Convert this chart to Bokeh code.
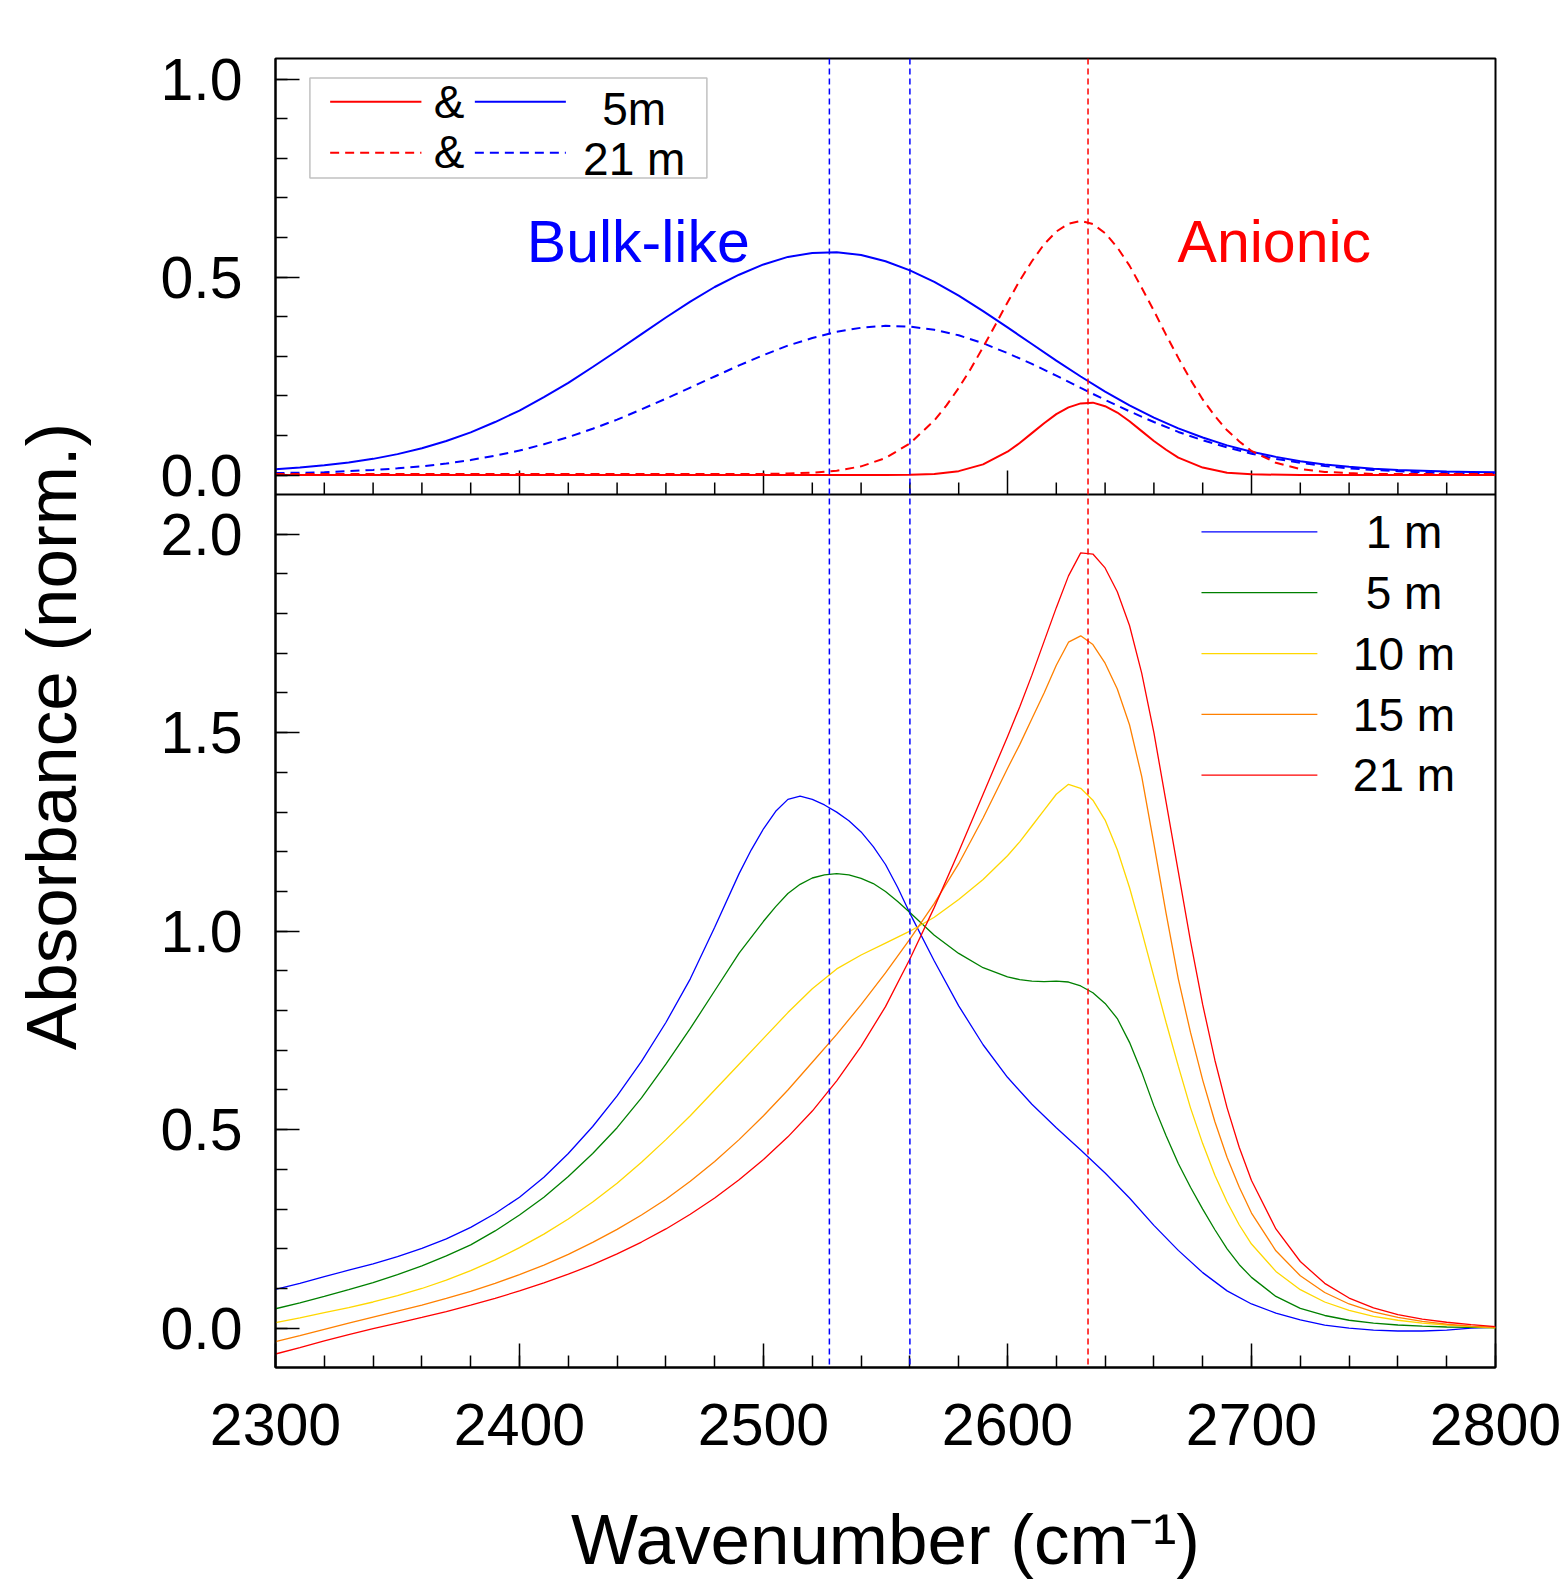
import math
from bokeh.plotting import figure
from bokeh.layouts import row
from bokeh.models import (Span, Label, SingleIntervalTicker, FixedTicker, Range1d,
                          BoxAnnotation, PrintfTickFormatter)
from bokeh.embed import file_html
from bokeh.resources import INLINE

FONT = "Liberation Sans"

# ======================= data =======================
# ---- top panel: fitted components (solid = 5 m, dashed = 21 m) ----
top_x = list(range(2300, 2801, 10))
bulk_5m = [0.015, 0.019, 0.025, 0.032, 0.041, 0.053, 0.068, 0.086, 0.108, 0.134,
           0.163, 0.197, 0.233, 0.273, 0.314, 0.356, 0.398, 0.438, 0.475, 0.506,
           0.532, 0.551, 0.561, 0.563, 0.556, 0.540, 0.517, 0.488, 0.453, 0.414,
           0.373, 0.331, 0.289, 0.249, 0.211, 0.176, 0.145, 0.118, 0.095, 0.075,
           0.059, 0.046, 0.035, 0.027, 0.021, 0.016, 0.013, 0.011, 0.009, 0.008, 0.007]
bulk_21m = [0.005, 0.006, 0.007, 0.010, 0.013, 0.017, 0.022, 0.029, 0.038, 0.049,
            0.062, 0.078, 0.096, 0.117, 0.140, 0.166, 0.193, 0.221, 0.249, 0.277,
            0.303, 0.327, 0.346, 0.362, 0.372, 0.377, 0.375, 0.367, 0.353, 0.333,
            0.308, 0.281, 0.251, 0.220, 0.190, 0.161, 0.134, 0.109, 0.088, 0.070,
            0.054, 0.041, 0.031, 0.023, 0.017, 0.013, 0.010, 0.007, 0.005, 0.004, 0.003]
an5_x = [2300, 2400, 2500, 2550, 2560, 2570, 2580, 2590, 2600, 2605, 2610, 2615, 2620,
         2625, 2630, 2635, 2640, 2645, 2650, 2655, 2660, 2665, 2670, 2680, 2690, 2700,
         2720, 2800]
anionic_5m = [0.0, 0.0, 0.0, 0.0, 0.001, 0.003, 0.010, 0.027, 0.059, 0.081, 0.106,
              0.131, 0.154, 0.171, 0.181, 0.183, 0.174, 0.158, 0.136, 0.111, 0.086,
              0.064, 0.044, 0.019, 0.006, 0.002, 0.0, 0.0]
an21_x = [2300, 2400, 2480, 2500, 2510, 2520, 2530, 2540, 2550, 2560, 2570, 2575, 2580,
          2585, 2590, 2595, 2600, 2605, 2610, 2615, 2620, 2625, 2630, 2635, 2640, 2645,
          2650, 2655, 2660, 2665, 2670, 2675, 2680, 2685, 2690, 2695, 2700, 2710, 2720,
          2730, 2740, 2750, 2800]
anionic_21m = [0.003, 0.003, 0.003, 0.003, 0.004, 0.006, 0.011, 0.022, 0.043, 0.080,
               0.138, 0.176, 0.220, 0.269, 0.323, 0.379, 0.436, 0.491, 0.540, 0.583,
               0.615, 0.635, 0.642, 0.634, 0.611, 0.575, 0.529, 0.473, 0.415, 0.354,
               0.296, 0.241, 0.191, 0.149, 0.113, 0.085, 0.061, 0.031, 0.015, 0.008,
               0.005, 0.003, 0.003]

# ---- bottom panel: measured spectra ----
x_1m = [2300, 2310, 2320, 2330, 2340, 2350, 2360, 2370, 2380, 2390, 2400, 2410, 2420,
        2430, 2440, 2450, 2460, 2470, 2480, 2490, 2495, 2500, 2505, 2510, 2515, 2520,
        2525, 2530, 2535, 2540, 2545, 2550, 2555, 2560, 2570, 2580, 2590, 2600, 2610,
        2620, 2630, 2640, 2650, 2660, 2670, 2680, 2690, 2700, 2710, 2720, 2730, 2740,
        2750, 2760, 2770, 2780, 2790, 2800]
y_1m = [0.098, 0.113, 0.130, 0.146, 0.162, 0.180, 0.201, 0.225, 0.254, 0.289, 0.330,
        0.380, 0.440, 0.508, 0.585, 0.672, 0.770, 0.880, 1.010, 1.145, 1.205, 1.258,
        1.302, 1.332, 1.340, 1.332, 1.318, 1.300, 1.278, 1.250, 1.213, 1.168, 1.110,
        1.045, 0.925, 0.812, 0.714, 0.632, 0.564, 0.505, 0.449, 0.391, 0.328, 0.259,
        0.196, 0.140, 0.094, 0.061, 0.038, 0.021, 0.008, 0.000, -0.005, -0.007, -0.007,
        -0.005, 0.000, 0.003]

x_5m = [2300, 2310, 2320, 2330, 2340, 2350, 2360, 2370, 2380, 2390, 2400, 2410, 2420,
        2430, 2440, 2450, 2460, 2470, 2480, 2490, 2500, 2505, 2510, 2515, 2520, 2525,
        2530, 2535, 2540, 2545, 2550, 2555, 2560, 2570, 2580, 2590, 2600, 2605, 2610,
        2615, 2620, 2625, 2630, 2635, 2640, 2645, 2650, 2655, 2660, 2665, 2670, 2675,
        2680, 2685, 2690, 2695, 2700, 2710, 2720, 2730, 2740, 2750, 2760, 2770, 2780,
        2790, 2800]
y_5m = [0.049, 0.064, 0.080, 0.097, 0.115, 0.135, 0.157, 0.182, 0.210, 0.245, 0.285,
        0.330, 0.382, 0.440, 0.505, 0.580, 0.665, 0.755, 0.850, 0.945, 1.025, 1.062,
        1.095, 1.118, 1.134, 1.142, 1.145, 1.142, 1.133, 1.120, 1.100, 1.075, 1.047,
        0.990, 0.944, 0.908, 0.885, 0.878, 0.874, 0.873, 0.874, 0.872, 0.862, 0.845,
        0.818, 0.780, 0.720, 0.645, 0.560, 0.485, 0.415, 0.355, 0.300, 0.248, 0.200,
        0.160, 0.128, 0.080, 0.050, 0.032, 0.020, 0.013, 0.008, 0.005, 0.003, 0.002, 0.001]

x_10m = [2300, 2310, 2320, 2330, 2340, 2350, 2360, 2370, 2380, 2390, 2400, 2410, 2420,
         2430, 2440, 2450, 2460, 2470, 2480, 2490, 2500, 2510, 2520, 2530, 2540, 2550,
         2560, 2570, 2580, 2590, 2600, 2605, 2610, 2615, 2620, 2625, 2630, 2635, 2640,
         2645, 2650, 2655, 2660, 2665, 2670, 2675, 2680, 2685, 2690, 2695, 2700, 2710,
         2720, 2730, 2740, 2750, 2760, 2770, 2780, 2790, 2800]
y_10m = [0.014, 0.026, 0.039, 0.052, 0.066, 0.082, 0.100, 0.121, 0.145, 0.172, 0.203,
         0.237, 0.275, 0.318, 0.365, 0.418, 0.475, 0.535, 0.600, 0.665, 0.730, 0.795,
         0.855, 0.905, 0.940, 0.970, 1.000, 1.035, 1.080, 1.130, 1.190, 1.225, 1.265,
         1.305, 1.345, 1.370, 1.360, 1.330, 1.280, 1.205, 1.110, 1.000, 0.885, 0.770,
         0.660, 0.555, 0.465, 0.385, 0.318, 0.260, 0.212, 0.143, 0.097, 0.066, 0.045,
         0.030, 0.020, 0.013, 0.008, 0.004, 0.001]

x_15m = [2300, 2310, 2320, 2330, 2340, 2350, 2360, 2370, 2380, 2390, 2400, 2410, 2420,
         2430, 2440, 2450, 2460, 2470, 2480, 2490, 2500, 2510, 2520, 2530, 2540, 2550,
         2560, 2570, 2580, 2590, 2600, 2605, 2610, 2615, 2620, 2625, 2630, 2635, 2640,
         2645, 2650, 2655, 2660, 2665, 2670, 2675, 2680, 2685, 2690, 2695, 2700, 2710,
         2720, 2730, 2740, 2750, 2760, 2770, 2780, 2790, 2800]
y_15m = [-0.034, -0.019, -0.003, 0.013, 0.028, 0.043, 0.058, 0.075, 0.093, 0.113, 0.135,
         0.159, 0.186, 0.216, 0.249, 0.285, 0.325, 0.370, 0.420, 0.475, 0.535, 0.600,
         0.670, 0.740, 0.815, 0.895, 0.980, 1.070, 1.170, 1.285, 1.410, 1.470, 1.535,
         1.600, 1.670, 1.728, 1.744, 1.722, 1.675, 1.610, 1.520, 1.390, 1.220, 1.045,
         0.880, 0.745, 0.625, 0.520, 0.430, 0.355, 0.290, 0.195, 0.132, 0.090, 0.061,
         0.041, 0.027, 0.017, 0.010, 0.005, 0.002]

x_21m = [2300, 2310, 2320, 2330, 2340, 2350, 2360, 2370, 2380, 2390, 2400, 2410, 2420,
         2430, 2440, 2450, 2460, 2470, 2480, 2490, 2500, 2510, 2520, 2530, 2540, 2550,
         2560, 2570, 2580, 2590, 2600, 2605, 2610, 2615, 2620, 2625, 2630, 2635, 2640,
         2645, 2650, 2655, 2660, 2665, 2670, 2675, 2680, 2685, 2690, 2695, 2700, 2710,
         2720, 2730, 2740, 2750, 2760, 2770, 2780, 2790, 2800]
y_21m = [-0.065, -0.049, -0.032, -0.016, -0.001, 0.013, 0.027, 0.042, 0.058, 0.075, 0.094,
         0.114, 0.136, 0.160, 0.187, 0.217, 0.250, 0.287, 0.328, 0.374, 0.425, 0.482,
         0.547, 0.623, 0.710, 0.810, 0.930, 1.060, 1.200, 1.345, 1.490, 1.565, 1.645,
         1.730, 1.815, 1.895, 1.953, 1.950, 1.915, 1.855, 1.770, 1.650, 1.500, 1.325,
         1.150, 0.975, 0.815, 0.675, 0.555, 0.455, 0.372, 0.250, 0.168, 0.113, 0.076,
         0.051, 0.034, 0.023, 0.015, 0.009, 0.004]

spec_labels = ["1 m", "5 m", "10 m", "15 m", "21 m"]
spec_colors = ["#0000ff", "#008000", "#ffd700", "#ff8000", "#ff0000"]
spec_x = [x_1m, x_5m, x_10m, x_15m, x_21m]
spec_y = [y_1m, y_5m, y_10m, y_15m, y_21m]

# band positions marked by dashed lines (cm-1)
bulk_marks = [2527, 2560]
anionic_mark = 2633

# ======================= geometry =======================
X0, X1 = 2300, 2800
TOP_Y0, TOP_Y1 = -0.049, 1.052      # visible range of the upper panel
BOT_Y0, BOT_Y1 = -0.099, 2.100      # visible range of the lower panel

YT_W = 118       # strip holding the y title
LB, RB = 157, 66
FW = 1220
TOP_FH, BOT_FH = 436, 873
FH = TOP_FH + BOT_FH
BT = 58
TICK_FS = "59px"
MAJ_T, MIN_T = 24, 12

# main y range = lower panel scale extended over the upper panel
MAIN_Y1 = BOT_Y0 + (BOT_Y1 - BOT_Y0) * FH / BOT_FH
# extra y range = upper panel scale extended over the lower panel
TOPR_Y0 = TOP_Y1 - (TOP_Y1 - TOP_Y0) * FH / TOP_FH
px_main = (MAIN_Y1 - BOT_Y0) / FH
px_top = (TOP_Y1 - TOPR_Y0) / FH


def top_to_main(v):
    return BOT_Y0 + (v - TOPR_Y0) * (MAIN_Y1 - BOT_Y0) / (TOP_Y1 - TOPR_Y0)


p = figure(output_backend="svg", toolbar_location=None,
           frame_width=FW, frame_height=FH,
           x_range=Range1d(X0, X1), y_range=Range1d(BOT_Y0, MAIN_Y1),
           min_border_left=LB, min_border_right=RB, min_border_top=BT, min_border_bottom=0)
p.extra_y_ranges = {"top": Range1d(TOPR_Y0, TOP_Y1)}
p.grid.visible = False
p.outline_line_color = "black"
p.outline_line_width = 2
p.background_fill_color = "white"
p.border_fill_color = "white"

for ax in (p.xaxis[0], p.yaxis[0]):
    ax.major_tick_in = MAJ_T
    ax.major_tick_out = 0
    ax.minor_tick_in = MIN_T
    ax.minor_tick_out = 0
    ax.axis_line_width = 2
    ax.major_tick_line_width = 1.5
    ax.minor_tick_line_width = 1.5
    ax.axis_line_color = "black"
    ax.major_tick_line_color = "black"
    ax.minor_tick_line_color = "black"
    ax.major_label_text_font = FONT
    ax.major_label_text_color = "black"
    ax.major_label_text_font_size = TICK_FS
    ax.axis_label_text_font = FONT
    ax.axis_label_text_font_style = "normal"
    ax.axis_label_text_color = "black"

# x axis (shared wavenumber scale)
p.xaxis.ticker = SingleIntervalTicker(interval=100, num_minor_ticks=5)
p.xaxis.major_label_standoff = 36
p.xaxis.axis_label = "Wavenumber (cm⁻¹)"
p.xaxis.axis_label_text_font_size = "71px"
p.xaxis.axis_label_standoff = 52

# y axis: lower-panel ticks plus upper-panel ticks (upper values mapped onto the axis)
bot_major = [0.0, 0.5, 1.0, 1.5, 2.0]
top_major_vals = [0.0, 0.5, 1.0]
top_major = [top_to_main(v) for v in top_major_vals]
bot_minor = [round(0.1 * i, 1) for i in range(-1, 21)]
top_minor = [top_to_main(round(0.1 * i, 1)) for i in range(0, 11)]
p.yaxis.ticker = FixedTicker(ticks=bot_major + top_major, minor_ticks=bot_minor + top_minor)
p.yaxis.formatter = PrintfTickFormatter(format="%.1f")
p.yaxis.major_label_overrides = {m: "%.1f" % v for m, v in zip(top_major, top_major_vals)}
p.yaxis.major_label_standoff = 33

# boundary between the two panels, with upward ticks of the upper panel
p.add_layout(Span(location=BOT_Y1, dimension="width", line_color="black", line_width=2))
maj_x = list(range(X0 + 100, X1, 100))
min_x = [x for x in range(X0 + 20, X1, 20) if x % 100 != 0]
p.segment(x0=maj_x, y0=[BOT_Y1] * len(maj_x), x1=maj_x,
          y1=[BOT_Y1 + MAJ_T * px_main] * len(maj_x), line_color="black", line_width=1.5)
p.segment(x0=min_x, y0=[BOT_Y1] * len(min_x), x1=min_x,
          y1=[BOT_Y1 + MIN_T * px_main] * len(min_x), line_color="black", line_width=1.5)

# dashed band markers through both panels
for xm in bulk_marks:
    p.add_layout(Span(location=xm, dimension="height", line_color="#0000ff",
                      line_width=1.5, line_dash="6 4"))
p.add_layout(Span(location=anionic_mark, dimension="height", line_color="#ff0000",
                  line_width=1.5, line_dash="6 4"))

# ---- upper panel curves ----
p.line(top_x, bulk_5m, line_color="#0000ff", line_width=2, y_range_name="top")
p.line(top_x, bulk_21m, line_color="#0000ff", line_width=2, line_dash="9 6", y_range_name="top")
p.line(an5_x, anionic_5m, line_color="#ff0000", line_width=2, y_range_name="top")
p.line(an21_x, anionic_21m, line_color="#ff0000", line_width=2, line_dash="9 6",
       y_range_name="top")

# text anchors are the bottom of the text box: baseline minus the font descent
def descent(fs_px, per_px):
    return 0.212 * fs_px * per_px

# upper legend
p.add_layout(BoxAnnotation(left=2314.1, right=2476.8, bottom=0.750, top=1.0025,
                           fill_alpha=0, line_color="#333333", line_width=1.5,
                           y_range_name="top"))
for yy, dash in ((0.9427, "solid"), (0.8139, "9 6")):
    p.line([2322.4, 2359.8], [yy, yy], line_color="#ff0000", line_width=2, line_dash=dash,
           y_range_name="top")
    p.line([2381.7, 2419.0], [yy, yy], line_color="#0000ff", line_width=2, line_dash=dash,
           y_range_name="top")
d46 = descent(46, px_top)
for base in (0.901, 0.775):
    p.add_layout(Label(x=2364.9, y=base - d46, y_range_name="top", text="&", text_font=FONT,
                       text_font_size="46px", text_color="black"))
p.add_layout(Label(x=2447.0, y=0.883 - d46, y_range_name="top", text="5m", text_font=FONT,
                   text_align="center", text_font_size="46px", text_color="black"))
p.add_layout(Label(x=2447.0, y=0.757 - d46, y_range_name="top", text="21 m", text_font=FONT,
                   text_align="center", text_font_size="46px", text_color="black"))

d59 = descent(59, px_top)
p.add_layout(Label(x=2403.0, y=0.538 - d59, y_range_name="top", text="Bulk-like",
                   text_font=FONT, text_font_size="59px", text_color="#0000ff"))
p.add_layout(Label(x=2669.7, y=0.538 - d59, y_range_name="top", text="Anionic",
                   text_font=FONT, text_font_size="59px", text_color="#ff0000"))

# ---- lower panel spectra ----
for xs, ys, col in zip(spec_x, spec_y, spec_colors):
    p.line(xs, ys, line_color=col, line_width=1.3)

leg_rows = [2.006, 1.853, 1.699, 1.546, 1.393]
d46b = descent(46, px_main)
for lab, col, yy in zip(spec_labels, spec_colors, leg_rows):
    p.line([2679.5, 2727.0], [yy, yy], line_color=col, line_width=1.3)
    p.add_layout(Label(x=2762.5, y=yy - 16.5 * px_main - d46b, text=lab, text_font=FONT,
                       text_align="center", text_font_size="46px", text_color="black"))

# ======================= y title strip =======================
# its frame spans the same rows as the plot frame; y data = pixel row from the top
ytf = figure(output_backend="svg", toolbar_location=None, frame_width=YT_W,
             frame_height=FH, x_range=Range1d(0, YT_W), y_range=Range1d(BT + FH, BT),
             min_border_left=0, min_border_right=0, min_border_top=BT, min_border_bottom=0)
ytf.axis.visible = False
ytf.grid.visible = False
ytf.outline_line_color = None
ytf.add_layout(Label(x=51, y=736, text="Absorbance (norm.)", angle=math.pi / 2,
                     text_align="center", text_baseline="alphabetic", text_font=FONT,
                     text_font_size="71px", text_color="black"))

layout = row(ytf, p, spacing=0)
open("out.html", "w").write(file_html(layout, INLINE))
